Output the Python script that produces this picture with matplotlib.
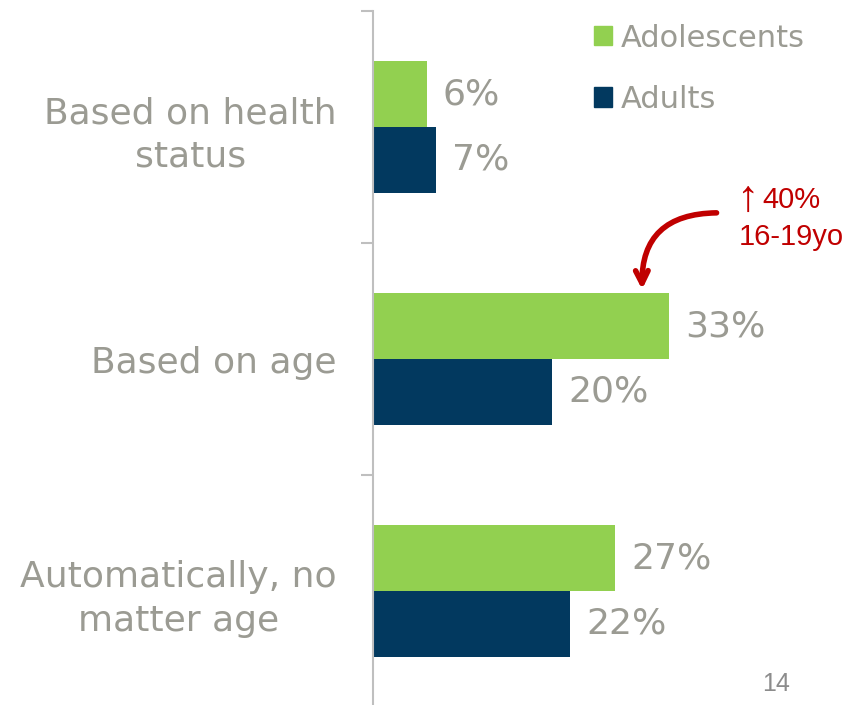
import numpy as np
import matplotlib.pyplot as plt
from matplotlib.patches import Patch

plt.rcParams['font.family'] = ['DejaVu Sans']

# survey answers, in percent
categories = ['Based on health\nstatus', 'Based on age', 'Automatically, no\nmatter age']
adolescents = [6, 33, 27]
adults = [7, 20, 22]
series_names = ['Adolescents', 'Adults']
note_arrow = '\u2191'
note_lines = ['40%', '16-19yo']
page_number = '14'

green = '#92D050'
navy = '#02395F'
grey = '#9B9B93'
red = '#C00000'

fig = plt.figure(figsize=(8.55, 7.05), dpi=100)
ax = fig.add_axes([373 / 855, -2 / 705, 448.5 / 855, 696 / 705])

y = np.arange(len(categories))
h = 0.284
bars1 = ax.barh(y - h / 2, adolescents, height=h, color=green, label=series_names[0])
bars2 = ax.barh(y + h / 2, adults, height=h, color=navy, label=series_names[1])

# value labels next to each bar
for bars, vals in ((bars1, adolescents), (bars2, adults)):
    for b, v in zip(bars, vals):
        ax.text(v + 1.8, b.get_y() + b.get_height() / 2, f'{v}%',
                va='center', ha='left', fontsize=26, color=grey)

ax.set_xlim(0, 50)
ax.set_ylim(2.5, -0.5)
ax.set_yticks(y, categories, fontsize=26, color=grey, multialignment='center',
              linespacing=1.35)
ax.set_yticks([-0.5, 0.5, 1.5, 2.5], minor=True)
ax.tick_params(axis='y', which='major', length=0, pad=26)
ax.tick_params(axis='y', which='minor', length=8.6, width=1.5, color='#BFBFBF')
ax.set_xticks([])
for side in ('top', 'right', 'bottom'):
    ax.spines[side].set_visible(False)
ax.spines['left'].set_color('#BFBFBF')
ax.spines['left'].set_linewidth(1.5)

# legend with square swatches
handles = [Patch(color=green), Patch(color=navy)]
fig.legend(handles, series_names, loc='upper left', bbox_to_anchor=(566 / 855, 1 + 4 / 705),
           frameon=False, fontsize=22, labelcolor=grey, handlelength=0.6,
           handleheight=0.6, handletextpad=0.3, labelspacing=1.05)

# callout for the age-based group
red_font = dict(color=red, ha='left', va='baseline', family='Liberation Sans')
ax.text(40.5, 0.362, note_arrow, fontsize=32, **red_font)
ax.text(43.4, 0.349, note_lines[0], fontsize=21, **red_font)
ax.text(40.8, 0.509, note_lines[1], fontsize=21, **red_font)
ax.annotate('', xy=(30.0, 0.70), xytext=(38.3, 0.37),
            arrowprops=dict(arrowstyle='->,head_length=0.9,head_width=0.45',
                            color=red, lw=4, connectionstyle='arc3,rad=0.5',
                            shrinkA=0, shrinkB=0))

fig.text(776 / 855, 1 - 684 / 705, page_number, fontsize=18, color='#8C8C8C',
         ha='center', va='center', family='Liberation Sans')

fig.savefig('out.png', dpi=100)
